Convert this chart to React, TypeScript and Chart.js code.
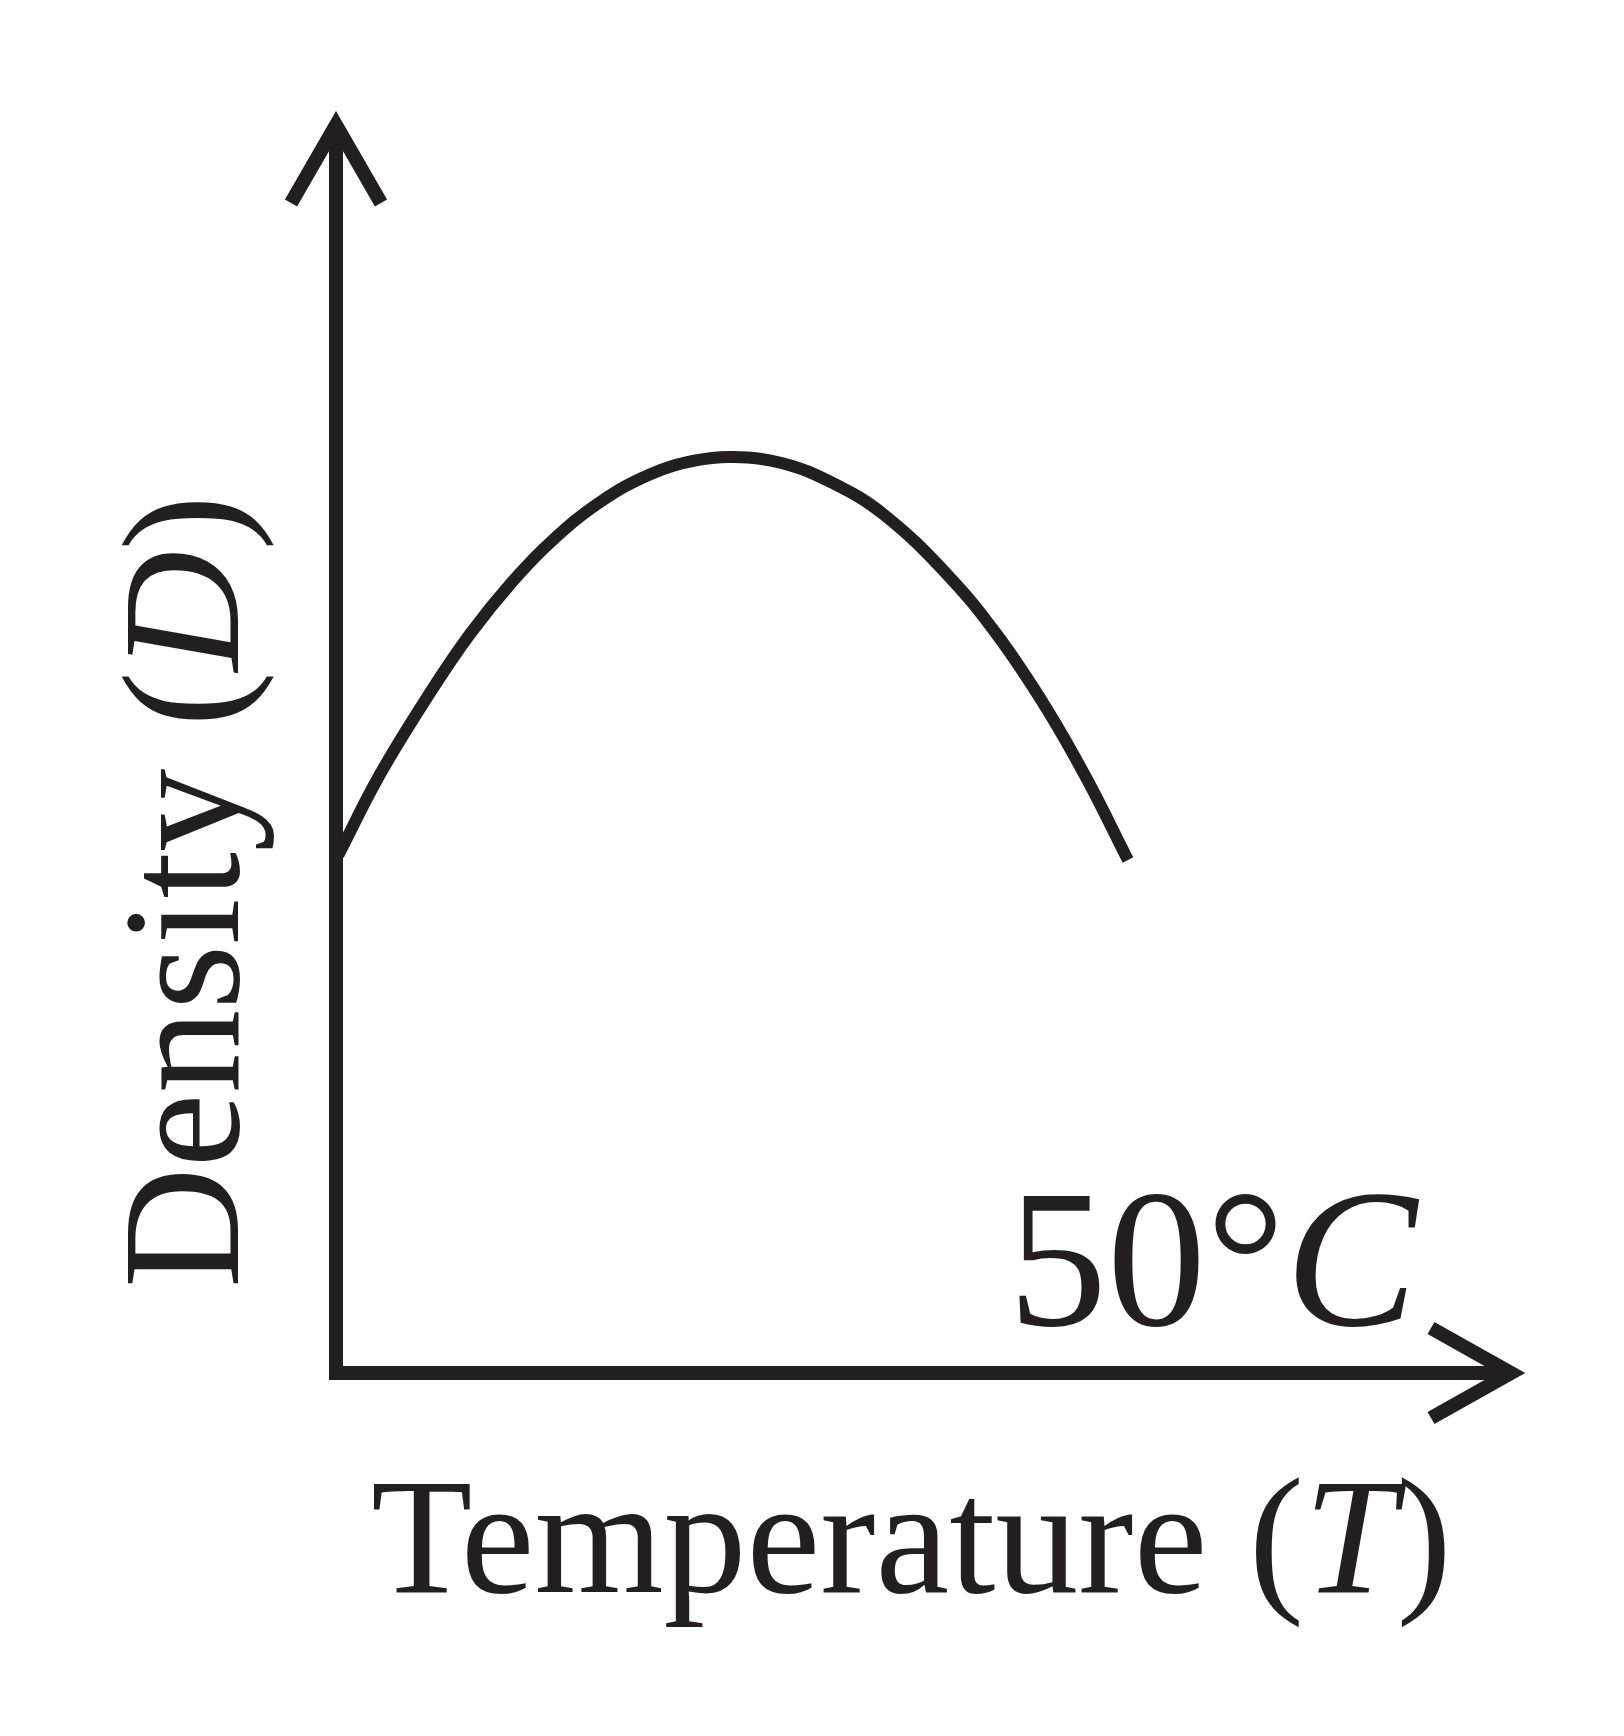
import React, { useEffect, useRef } from "react";
import { Chart, registerables } from "chart.js";

Chart.register(...registerables);

// Temperature (arbitrary units along the T axis, 0 = origin, 100 = arrow)
const temperatureValues = [0.2, 3.7, 8.0, 11.4, 15.0, 18.4, 22.5, 26.7, 30.5, 33.8, 38.0, 42.3, 46.6, 52.0, 56.3, 60.5, 63.9, 67.4];
// Density (arbitrary units along the D axis, 0 = origin, 100 = arrow)
const densityValues = [41.5, 47.9, 54.5, 59.2, 63.4, 66.7, 69.8, 72.0, 73.1, 73.4, 72.9, 71.3, 68.8, 64.0, 59.1, 53.2, 47.6, 41.1];

const xAxisLabel = ["Temperature (", "T", ")"];
const yAxisLabel = ["Density (", "D", ")"];
const annotationLabel = ["50°", "C"];

const INK = "#231f20";
const SERIF = '"Liberation Serif", "Times New Roman", Times, serif';

function drawParts(ctx: CanvasRenderingContext2D, parts: string[], italicIdx: number, size: number, x: number, y: number) {
  let cx = x;
  parts.forEach((p, i) => {
    ctx.font = `${i === italicIdx ? "italic " : ""}${size}px ${SERIF}`;
    ctx.fillText(p, cx, y);
    cx += ctx.measureText(p).width;
  });
}

const axesPlugin = {
  id: "sketchAxes",
  beforeDatasetsDraw(chart: any) {
    const ctx = chart.ctx as CanvasRenderingContext2D;
    const xs = chart.scales.x;
    const ys = chart.scales.y;
    const ox = xs.getPixelForValue(0);
    const oy = ys.getPixelForValue(0);
    const tx = xs.getPixelForValue(100);
    const ty = ys.getPixelForValue(100);
    ctx.save();
    ctx.strokeStyle = INK;
    ctx.lineWidth = 14;
    ctx.lineCap = "butt";
    ctx.lineJoin = "miter";
    ctx.miterLimit = 10;
    ctx.beginPath();
    ctx.moveTo(ox, ty);
    ctx.lineTo(ox, oy + 7);
    ctx.moveTo(ox - 7, oy);
    ctx.lineTo(tx, oy);
    ctx.stroke();
    ctx.beginPath();
    ctx.moveTo(ox - 45, ty + 78);
    ctx.lineTo(ox, ty);
    ctx.lineTo(ox + 45, ty + 78);
    ctx.stroke();
    ctx.beginPath();
    ctx.moveTo(tx - 80, oy - 45);
    ctx.lineTo(tx, oy);
    ctx.lineTo(tx - 80, oy + 45);
    ctx.stroke();
    ctx.restore();
  },
  afterDraw(chart: any) {
    const ctx = chart.ctx as CanvasRenderingContext2D;
    ctx.save();
    ctx.fillStyle = INK;
    ctx.textBaseline = "alphabetic";
    ctx.textAlign = "left";
    drawParts(ctx, xAxisLabel, 1, 166, 371, 1592);
    drawParts(ctx, annotationLabel, 1, 198, 1008, 1325);
    ctx.translate(238, 1288);
    ctx.rotate(-Math.PI / 2);
    drawParts(ctx, yAxisLabel, 1, 167, 0, 0);
    ctx.restore();
  },
};

export default function App() {
  const ref = useRef<HTMLCanvasElement>(null);
  useEffect(() => {
    document.body.style.margin = "0";
    const canvas = ref.current!;
    const chart = new Chart(canvas, {
      type: "line",
      data: {
        datasets: [
          {
            data: temperatureValues.map((t, i) => ({ x: t, y: densityValues[i] })),
            borderColor: INK,
            borderWidth: 12,
            borderCapStyle: "butt",
            borderJoinStyle: "round",
            pointRadius: 0,
            tension: 0.4,
            fill: false,
          },
        ],
      },
      options: {
        responsive: false,
        animation: false,
        devicePixelRatio: 1,
        layout: { padding: { left: 336, right: 113, top: 125, bottom: 363 } },
        plugins: { legend: { display: false }, tooltip: { enabled: false }, title: { display: false } },
        scales: {
          x: { type: "linear", min: 0, max: 100, display: false },
          y: { type: "linear", min: 0, max: 100, display: false },
        },
      },
      plugins: [axesPlugin],
    });
    return () => chart.destroy();
  }, []);
  return (
    <div style={{ position: "absolute", left: 0, top: 0, width: 1624, height: 1736, background: "#fff" }}>
      <canvas ref={ref} width={1624} height={1736} />
    </div>
  );
}
